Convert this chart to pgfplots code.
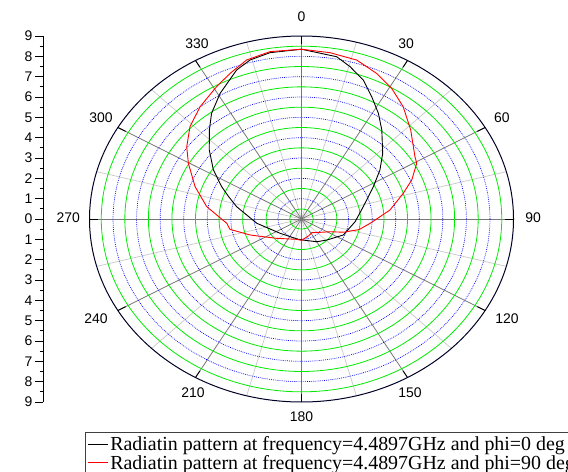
\documentclass[border=0pt]{standalone}
\usepackage{fontspec}
\setmainfont{Liberation Serif}
\newfontfamily\arial{Liberation Sans}
\usepackage{pgfplots}
\pgfplotsset{compat=1.18}
\usepackage{pgfplotstable}
\definecolor{ringgreen}{RGB}{0,235,0}
\definecolor{ringblue}{RGB}{0,0,255}
\definecolor{spokedark}{RGB}{120,120,120}
\definecolor{spokelight}{RGB}{200,200,200}

\pgfplotstableread{
theta r
0 8.35
10.6 8.12
15.4 7.77
21.0 7.32
26.4 6.71
32.1 6.14
37.9 5.55
46.9 4.72
54.1 4.11
62.5 3.44
77.0 2.69
93.4 2.28
113.9 1.94
134.0 1.49
150.0 1.29
176.0 1.04
188.0 1.01
232.4 1.15
263.7 1.91
282.4 2.82
289.8 3.30
295.1 3.74
302.8 4.45
310.9 5.18
318.2 5.87
323.7 6.45
330.8 7.08
339.4 7.83
344.4 8.12
350.7 8.29
360 8.35
}\phizero

\pgfplotstableread{
theta r
0 8.35
8.4 8.27
16.7 8.16
24.0 7.84
30.8 7.48
38.0 7.01
46.6 6.38
57.5 5.71
60.7 5.61
67.7 5.06
73.7 4.50
83.3 3.78
94.2 2.92
102.0 2.50
110.0 1.90
117.0 1.38
130.0 1.02
147.0 0.80
160.0 0.88
180.0 1.05
191.6 1.02
228.0 1.42
241.8 1.84
250.2 2.32
260.5 3.08
266.2 3.18
278.6 4.07
289.4 4.79
299.7 5.53
306.1 6.03
313.8 6.56
322.0 7.00
331.0 7.44
337.1 7.78
343.4 8.16
350.8 8.34
360 8.35
}\phininety

\begin{document}
\begin{tikzpicture}
\begin{axis}[
  name=ax,
  x=23.556bp, y=20.333bp,
  xmin=-10.974, xmax=10.5,
  ymin=-9, ymax=9,
  clip=false,
  axis x line=none,
  axis y line=left,
  y axis line style={-, line width=0.8bp, black},
  tick align=outside,
  ytick={-9,-8,...,9},
  minor ytick={-8.5,-7.5,...,8.5},
  major tick length=7.5bp,
  minor tick length=3.3bp,
  every tick/.style={black, line width=0.8bp},
  /pgf/number format/assume math mode=true,
  yticklabel={\pgfmathparse{abs(\tick)}\pgfmathprintnumber[fixed,precision=0]{\pgfmathresult}},
  yticklabel style={font=\fontsize{14}{14}\selectfont\arial, inner xsep=3bp},
  legend style={at={(0.0830,-0.0822)}, anchor=north west, draw=black!75, line width=0.8bp,
    font=\fontsize{20}{21}\selectfont, inner xsep=2bp, inner ysep=2.5bp, row sep=0bp,
    nodes={inner ysep=1.5bp, inner xsep=2bp}},
  legend cell align=left,
  legend image code/.code={\draw[#1] (0bp,0bp) -- (20bp,0bp);},
]
% spokes
\pgfplotsinvokeforeach{15,45,...,345}{
  \draw[spokelight, line width=0.7bp] (axis cs:0,0) -- (axis cs:{9*sin(#1)},{9*cos(#1)});
}
\pgfplotsinvokeforeach{30,60,...,360}{
  \draw[spokedark, line width=0.8bp] (axis cs:0,0) -- (axis cs:{9*sin(#1)},{9*cos(#1)});
}
% rings
\pgfplotsinvokeforeach{0.5,1.5,...,8.5}{
  \draw[ringgreen, line width=0.8bp] (axis cs:0,0) ellipse [x radius=#1, y radius=#1];
}
\pgfplotsinvokeforeach{1,2,...,8}{
  \draw[ringblue, line width=0.7bp, dash pattern=on 0.8bp off 1.1bp] (axis cs:0,0) ellipse [x radius=#1, y radius=#1];
}
\draw[black!85!blue, line width=1bp] (axis cs:0,0) ellipse [x radius=9, y radius=9];
\pgfplotsinvokeforeach{0,30,...,330}{
  \draw[black, line width=0.9bp] (axis cs:{8.62*sin(#1)},{8.62*cos(#1)}) -- (axis cs:{9*sin(#1)},{9*cos(#1)});
}
% angular labels
\begin{scope}[every node/.style={font=\fontsize{14}{14}\selectfont\arial}]
\node at (axis cs:0,9.93) {0};
\node at (axis cs:4.44,8.61) {30};
\node at (axis cs:8.51,4.97) {60};
\node at (axis cs:9.83,0.05) {90};
\node at (axis cs:8.72,-4.92) {120};
\node at (axis cs:4.61,-8.56) {150};
\node at (axis cs:0,-9.74) {180};
\node at (axis cs:-4.61,-8.56) {210};
\node at (axis cs:-8.72,-4.92) {240};
\node at (axis cs:-9.9,0.05) {270};
\node at (axis cs:-8.51,4.97) {300};
\node at (axis cs:-4.44,8.61) {330};
\end{scope}
% data
\addplot[black, line width=0.9bp] table[x expr={\thisrow{r}*sin(\thisrow{theta})}, y expr={\thisrow{r}*cos(\thisrow{theta})}] {\phizero};
\addlegendentry{Radiatin pattern at frequency=4.4897GHz and phi=0 deg}
\addplot[red, line width=0.9bp] table[x expr={\thisrow{r}*sin(\thisrow{theta})}, y expr={\thisrow{r}*cos(\thisrow{theta})}] {\phininety};
\addlegendentry{Radiatin pattern at frequency=4.4897GHz and phi=90 deg}
\end{axis}
\pgfresetboundingbox
\path[use as bounding box] ([shift={(-43bp,-70bp)}]ax.south west) rectangle ([shift={(525bp,402bp)}]ax.south west);
\end{tikzpicture}
\end{document}
